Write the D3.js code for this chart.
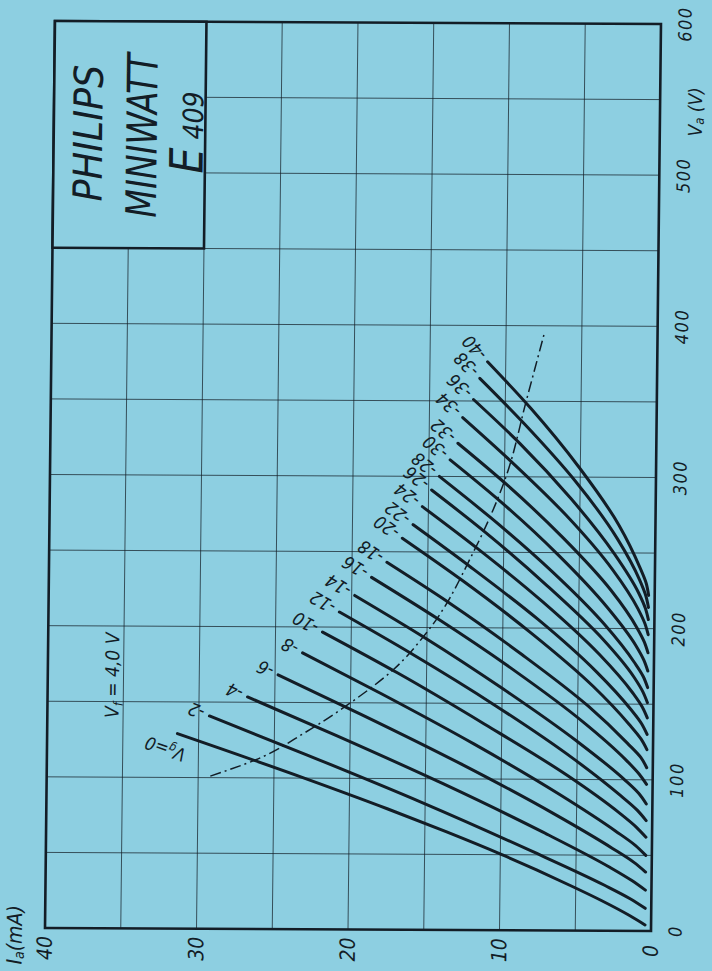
<!DOCTYPE html>
<html><head><meta charset="utf-8">
<script src="https://cdn.jsdelivr.net/npm/d3@7"></script>
<style>body{margin:0;background:#8fd0e2} svg{display:block}</style>
</head><body>
<svg id="chart" width="712" height="971"></svg>
<script>
// ---- data ----
const vaTicks = [0, 100, 200, 300, 400, 500, 600];
const iaTicks = [0, 10, 20, 30, 40];
const vgValues = [0, -2, -4, -6, -8, -10, -12, -14, -16, -18, -20, -22, -24, -26, -28, -30, -32, -34, -36, -38, -40];
// anode characteristic curves: [Va (V), Ia (mA)]
const curveVg0   = [[4,0.4],[10,1.4],[20,3.3],[30,5.4],[40,7.6],[50,9.9],[65,13.6],[80,17.5],[100,23.0],[129,31.4]];
const curveVg2   = [[15,0.4],[21.3,1.4],[30.1,3.1],[52.7,8.0],[84.2,15.2],[115.6,22.9],[140.8,29.3]];
const curveVg4   = [[27,0.4],[33.3,1.3],[42.2,2.8],[65,7.2],[96.6,13.8],[128.2,20.9],[153.5,26.8]];
const curveVg6   = [[39,0.4],[45.5,1.2],[54.5,2.6],[77.8,6.6],[110.1,12.7],[142.4,19.3],[168.2,24.8]];
const curveVg8   = [[50,0.4],[56.6,1.1],[65.9,2.4],[89.8,6.1],[123,11.8],[156.2,18.0],[182.8,23.2]];
const curveVg10  = [[62,0.4],[68.7,1.05],[78.2,2.2],[102.4,5.6],[136.1,11.1],[169.8,16.9],[196.7,21.9]];
const curveVg12  = [[73,0.4],[79.9,1.0],[89.4,2.1],[114.1,5.3],[148.4,10.4],[182.6,16.0],[210,20.8]];
const curveVg14  = [[84,0.4],[90.9,0.9],[100.4,1.9],[125.1,5.0],[159.4,9.9],[193.6,15.2],[221,19.8]];
const curveVg16  = [[97,0.4],[103.8,0.9],[113.3,1.8],[137.8,4.6],[171.8,9.2],[205.8,14.3],[233,18.7]];
const curveVg18  = [[108,0.4],[114.8,0.8],[124.2,1.7],[148.5,4.3],[182.3,8.7],[216,13.5],[243,17.7]];
const curveVg20  = [[120,0.4],[127,0.8],[136.7,1.6],[161.7,4.0],[196.5,8.1],[231.2,12.7],[259,16.7]];
const curveVg22  = [[130,0.4],[136.9,0.76],[146.6,1.5],[171.4,3.8],[205.9,7.7],[240.4,12.2],[268,16.0]];
const curveVg24  = [[141,0.4],[148,0.73],[157.7,1.4],[182.7,3.6],[217.5,7.4],[252.2,11.7],[280,15.4]];
const curveVg26  = [[151,0.4],[158,0.7],[167.8,1.3],[193,3.4],[228,7.1],[263,11.2],[291,14.8]];
const curveVg28  = [[161,0.4],[168,0.68],[177.7,1.3],[202.7,3.3],[237.5,6.8],[272.2,10.8],[300,14.3]];
const curveVg30  = [[172,0.4],[179,0.66],[188.7,1.2],[213.7,3.1],[248.5,6.4],[283.2,10.2],[311,13.6]];
const curveVg32  = [[184,0.4],[190.9,0.64],[200.6,1.15],[225.4,2.9],[259.9,6.1],[294.4,9.8],[322,13.1]];
const curveVg34  = [[196,0.4],[203.2,0.62],[213.2,1.1],[238.9,2.8],[274.7,5.9],[310.4,9.6],[339,12.8]];
const curveVg36  = [[206,0.4],[213.3,0.6],[223.4,1.05],[249.5,2.7],[285.8,5.6],[322,9.0],[351,12.1]];
const curveVg38  = [[214,0.4],[221.6,0.58],[232.1,1.0],[259.3,2.5],[297.1,5.3],[334.8,8.7],[365,11.7]];
const curveVg40  = [[222,0.4],[229.7,0.56],[240.5,1.0],[268.2,2.4],[306.7,5.1],[345.2,8.3],[376,11.2]];
const curves = [curveVg0, curveVg2, curveVg4, curveVg6, curveVg8, curveVg10, curveVg12, curveVg14,
  curveVg16, curveVg18, curveVg20, curveVg22, curveVg24, curveVg26, curveVg28, curveVg30, curveVg32,
  curveVg34, curveVg36, curveVg38, curveVg40];
// maximum anode dissipation line (dash-dot)
const dissipation = [[101,29.2],[112,26.2],[130,23.0],[150,20.0],[172,17.2],[197,15.0],[250,12.0],[300,9.9],[351,8.6],[394,7.5]];
// anchor of the "Vg=0" label
const vg0LabelAt = [114, 30.9];

// ---- drawing ----
const BG = '#8dcfe1', INK = '#131d26';
const FONT = "'DejaVu Sans Condensed','DejaVu Sans',sans-serif";
const W = 907, H = 606;
const x = d3.scaleLinear().domain([0, 600]).range([0, W]);
const y = d3.scaleLinear().domain([0, 40]).range([H, 0]);

const svg = d3.select('#chart');
svg.append('rect').attr('width', 712).attr('height', 971).attr('fill', BG);
// chart is printed rotated 90deg counter-clockwise (slightly skewed scan)
const g = svg.append('g').attr('transform', 'matrix(0.011,-1,1,0.00495,45,928)');

// grid
const gridVa = d3.range(50, 600, 50);
const gridIa = d3.range(5, 40, 5);
g.append('g').selectAll('line').data(gridVa).join('line')
  .attr('x1', d => x(d)).attr('x2', d => x(d))
  .attr('y1', y(0)).attr('y2', d => d > 450 ? y(30) : y(40))
  .attr('stroke', INK).attr('stroke-width', 0.9).attr('stroke-opacity', 0.8);
g.append('g').selectAll('line').data(gridIa).join('line')
  .attr('y1', d => y(d)).attr('y2', d => y(d))
  .attr('x1', x(0)).attr('x2', d => d > 30 ? x(450) : x(600))
  .attr('stroke', INK).attr('stroke-width', 0.9).attr('stroke-opacity', 0.8);

// frame and title box
g.append('rect').attr('x', 0).attr('y', 0).attr('width', W).attr('height', H)
  .attr('fill', 'none').attr('stroke', INK).attr('stroke-width', 2.6);
g.append('rect').attr('x', x(450)).attr('y', y(40)).attr('width', x(600) - x(450)).attr('height', y(30) - y(40))
  .attr('fill', BG).attr('stroke', INK).attr('stroke-width', 2.6);

// curves
const line = d3.line().x(d => x(d[0])).y(d => y(d[1])).curve(d3.curveMonotoneX);
g.append('g').selectAll('path').data(curves).join('path')
  .attr('d', line).attr('fill', 'none').attr('stroke', INK)
  .attr('stroke-width', 3).attr('stroke-linecap', 'round');

// dissipation hyperbola
g.append('path').attr('d', line(dissipation)).attr('fill', 'none').attr('stroke', INK)
  .attr('stroke-width', 1.5).attr('stroke-dasharray', '11,4,2,4');

// curve labels
const labels = g.append('g').attr('font-family', FONT).attr('font-style', 'italic').attr('font-size', 18).attr('fill', INK);
curves.forEach((c, i) => {
  const p1 = c[c.length - 2], p2 = c[c.length - 1];
  const dx = x(p2[0]) - x(p1[0]), dy = y(p2[1]) - y(p1[1]);
  const ang = Math.atan2(dy, dx);
  const deg = ang * 180 / Math.PI;
  if (vgValues[i] === 0) {
    const t = labels.append('text')
      .attr('transform', `translate(${x(vg0LabelAt[0])},${y(vg0LabelAt[1])}) rotate(${deg})`)
      .attr('dominant-baseline', 'central');
    t.append('tspan').text('V');
    t.append('tspan').attr('font-size', 12).attr('dy', 4).text('g');
    t.append('tspan').attr('dy', -4).text('=0');
  } else {
    const gap = 6;
    const px = x(p2[0]) + gap * Math.cos(ang), py = y(p2[1]) + gap * Math.sin(ang);
    labels.append('text')
      .attr('transform', `translate(${px},${py}) rotate(${deg})`)
      .attr('dominant-baseline', 'central')
      .text('-' + Math.abs(vgValues[i]));
  }
});

// tick labels
const ticks = g.append('g').attr('font-family', FONT).attr('font-style', 'italic').attr('fill', INK);
ticks.selectAll('text.va').data(vaTicks).join('text').attr('class', 'va')
  .attr('x', d => x(d)).attr('y', H + 24).attr('text-anchor', 'middle')
  .attr('dominant-baseline', 'central').attr('font-size', 18).attr('letter-spacing', 1.5).text(d => d);
ticks.selectAll('text.ia').data(iaTicks).join('text').attr('class', 'ia')
  .attr('x', -20).attr('y', d => y(d)).attr('text-anchor', 'middle')
  .attr('dominant-baseline', 'central').attr('font-size', 21).text(d => d);

// axis titles
const vaT = ticks.append('text').attr('x', x(542)).attr('y', H + 35)
  .attr('text-anchor', 'middle').attr('dominant-baseline', 'central').attr('font-size', 19);
vaT.append('tspan').text('V');
vaT.append('tspan').attr('font-size', 13).attr('dy', 4).text('a');
vaT.append('tspan').attr('dy', -4).text(' (V)');
const iaT = ticks.append('text').attr('x', -7).attr('y', -30)
  .attr('text-anchor', 'middle').attr('dominant-baseline', 'central').attr('font-size', 21);
iaT.append('tspan').text('I');
iaT.append('tspan').attr('font-size', 14).attr('dy', 4).text('a');
iaT.append('tspan').attr('dy', -4).text('(mA)');

// heater note
const vf = ticks.append('text').attr('x', x(167.4)).attr('y', y(35.3))
  .attr('text-anchor', 'middle').attr('font-size', 19);
vf.append('tspan').text('V');
vf.append('tspan').attr('font-size', 13).attr('dy', 4).text('f');
vf.append('tspan').attr('dy', -4).text(' = 4,0 V');

// title box text
const tb = g.append('g').attr('font-family', FONT).attr('font-style', 'italic').attr('fill', INK);
tb.append('text').attr('x', x(526)).attr('y', y(36.8)).attr('text-anchor', 'middle')
  .attr('font-size', 40).attr('textLength', 137).attr('lengthAdjust', 'spacingAndGlyphs').text('PHILIPS');
tb.append('text').attr('x', x(524.5)).attr('y', y(33.2)).attr('text-anchor', 'middle')
  .attr('font-size', 42).attr('textLength', 164).attr('lengthAdjust', 'spacingAndGlyphs').text('MINIWATT');
const e = tb.append('text').attr('x', x(499.5)).attr('y', y(30.15)).attr('text-anchor', 'start');
e.append('tspan').attr('font-size', 46).text('E');
e.append('tspan').attr('font-size', 28).text(' 409');
</script>
</body></html>
